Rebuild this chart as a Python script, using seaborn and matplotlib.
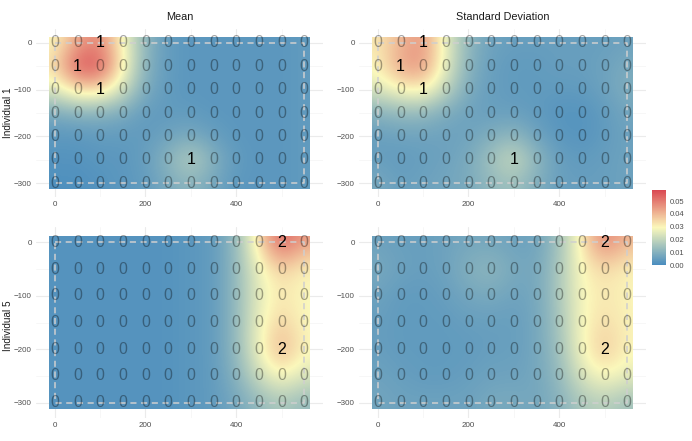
import numpy as np
import matplotlib
matplotlib.use("Agg")
import matplotlib.pyplot as plt
from matplotlib.patches import Rectangle
import seaborn as sns

# grid positions of the counts
x_vals = [0, 50, 100, 150, 200, 250, 300, 350, 400, 450, 500, 550]
y_vals = [0, -50, -100, -150, -200, -250, -300]

# counts per grid cell (rows = y_vals, cols = x_vals)
counts_ind1 = [
    [0, 0, 1, 0, 0, 0, 0, 0, 0, 0, 0, 0],
    [0, 1, 0, 0, 0, 0, 0, 0, 0, 0, 0, 0],
    [0, 0, 1, 0, 0, 0, 0, 0, 0, 0, 0, 0],
    [0, 0, 0, 0, 0, 0, 0, 0, 0, 0, 0, 0],
    [0, 0, 0, 0, 0, 0, 0, 0, 0, 0, 0, 0],
    [0, 0, 0, 0, 0, 0, 1, 0, 0, 0, 0, 0],
    [0, 0, 0, 0, 0, 0, 0, 0, 0, 0, 0, 0],
]
counts_ind5 = [
    [0, 0, 0, 0, 0, 0, 0, 0, 0, 0, 2, 0],
    [0, 0, 0, 0, 0, 0, 0, 0, 0, 0, 0, 0],
    [0, 0, 0, 0, 0, 0, 0, 0, 0, 0, 0, 0],
    [0, 0, 0, 0, 0, 0, 0, 0, 0, 0, 0, 0],
    [0, 0, 0, 0, 0, 0, 0, 0, 0, 0, 2, 0],
    [0, 0, 0, 0, 0, 0, 0, 0, 0, 0, 0, 0],
    [0, 0, 0, 0, 0, 0, 0, 0, 0, 0, 0, 0],
]

# estimated surface values at the grid points
ind1_mean = [
    [0.029, 0.043, 0.048, 0.029, 0.011, 0.004, 0.003, 0.003, 0.003, 0.003, 0.003, 0.004],
    [0.034, 0.057, 0.057, 0.031, 0.010, 0.004, 0.003, 0.003, 0.003, 0.003, 0.003, 0.004],
    [0.025, 0.035, 0.035, 0.023, 0.008, 0.004, 0.003, 0.003, 0.003, 0.003, 0.003, 0.004],
    [0.008, 0.010, 0.010, 0.008, 0.004, 0.004, 0.004, 0.003, 0.003, 0.003, 0.003, 0.004],
    [0.003, 0.003, 0.004, 0.004, 0.004, 0.006, 0.008, 0.005, 0.003, 0.003, 0.003, 0.004],
    [0.002, 0.002, 0.003, 0.003, 0.005, 0.011, 0.019, 0.010, 0.004, 0.003, 0.003, 0.004],
    [0.001, 0.001, 0.002, 0.003, 0.004, 0.008, 0.011, 0.007, 0.003, 0.003, 0.003, 0.004],
]
ind1_sd = [
    [0.032, 0.040, 0.046, 0.026, 0.011, 0.006, 0.005, 0.005, 0.005, 0.005, 0.005, 0.006],
    [0.030, 0.044, 0.046, 0.026, 0.010, 0.005, 0.004, 0.004, 0.005, 0.005, 0.006, 0.008],
    [0.024, 0.030, 0.032, 0.020, 0.008, 0.005, 0.004, 0.004, 0.004, 0.004, 0.006, 0.009],
    [0.010, 0.012, 0.012, 0.008, 0.006, 0.005, 0.005, 0.004, 0.002, 0.002, 0.004, 0.007],
    [0.005, 0.006, 0.006, 0.006, 0.006, 0.009, 0.012, 0.006, 0.003, 0.002, 0.004, 0.006],
    [0.005, 0.004, 0.005, 0.006, 0.008, 0.015, 0.022, 0.012, 0.005, 0.004, 0.005, 0.006],
    [0.008, 0.005, 0.006, 0.007, 0.008, 0.012, 0.014, 0.009, 0.005, 0.005, 0.005, 0.006],
]
ind5_mean = [
    [0.002, 0.002, 0.002, 0.002, 0.002, 0.002, 0.003, 0.004, 0.012, 0.034, 0.056, 0.044],
    [0.002, 0.002, 0.002, 0.002, 0.002, 0.002, 0.003, 0.004, 0.012, 0.027, 0.036, 0.030],
    [0.002, 0.002, 0.002, 0.002, 0.002, 0.002, 0.003, 0.004, 0.012, 0.026, 0.032, 0.029],
    [0.002, 0.002, 0.002, 0.002, 0.002, 0.002, 0.003, 0.004, 0.012, 0.027, 0.036, 0.029],
    [0.002, 0.002, 0.002, 0.002, 0.002, 0.002, 0.003, 0.004, 0.012, 0.028, 0.042, 0.030],
    [0.002, 0.002, 0.002, 0.002, 0.002, 0.002, 0.003, 0.004, 0.010, 0.022, 0.030, 0.024],
    [0.002, 0.002, 0.002, 0.002, 0.002, 0.002, 0.003, 0.004, 0.007, 0.012, 0.016, 0.012],
]
ind5_sd = [
    [0.006, 0.005, 0.005, 0.006, 0.007, 0.007, 0.006, 0.006, 0.014, 0.032, 0.050, 0.040],
    [0.008, 0.006, 0.005, 0.006, 0.010, 0.012, 0.008, 0.007, 0.016, 0.030, 0.034, 0.030],
    [0.006, 0.004, 0.004, 0.005, 0.007, 0.008, 0.006, 0.007, 0.016, 0.029, 0.032, 0.030],
    [0.005, 0.004, 0.004, 0.004, 0.005, 0.005, 0.005, 0.007, 0.015, 0.029, 0.034, 0.030],
    [0.005, 0.004, 0.004, 0.004, 0.004, 0.005, 0.005, 0.007, 0.014, 0.029, 0.038, 0.030],
    [0.006, 0.005, 0.004, 0.004, 0.005, 0.006, 0.006, 0.007, 0.012, 0.024, 0.030, 0.026],
    [0.007, 0.006, 0.006, 0.006, 0.006, 0.008, 0.008, 0.007, 0.010, 0.016, 0.018, 0.014],
]

col_titles = ["Mean", "Standard Deviation"]
row_titles = ["Individual 1", "Individual 5"]
cbar_ticks = [0.00, 0.01, 0.02, 0.03, 0.04, 0.05]

sns.set_theme(style="whitegrid")
plt.rcParams['font.family'] = ['Liberation Sans', 'DejaVu Sans']

cmap = sns.blend_palette(["#4a8dbf", "#fbf8bb", "#da4852"], as_cmap=True)
vmax = 0.0587

W, H = 692, 441
fig = plt.figure(figsize=(W / 100, H / 100), dpi=100)


def px_axes(x0, y0, x1, y1):
    return fig.add_axes([x0 / W, 1 - y1 / H, (x1 - x0) / W, (y1 - y0) / H])


panels = [
    (0, 0, ind1_mean, counts_ind1),
    (0, 1, ind1_sd, counts_ind1),
    (1, 0, ind5_mean, counts_ind5),
    (1, 1, ind5_sd, counts_ind5),
]
col_px = [(36, 323), (359, 646)]
row_px = [(29, 197), (227, 418)]

for r, c, dens, counts in panels:
    ax = px_axes(col_px[c][0], row_px[r][0], col_px[c][1], row_px[r][1])
    im = ax.imshow(np.array(dens), extent=[-25, 575, -325, 25], origin='upper',
                   cmap=cmap, vmin=0, vmax=vmax, interpolation='bicubic',
                   aspect='auto', zorder=1)
    im.set_clip_path(Rectangle((-12.5, -312.5), 575, 325, transform=ax.transData))

    # dashed study area
    ax.plot([0, 550, 550, 0, 0], [0, 0, -300, -300, 0], ls=(0, (4, 3)),
            color='#cfcfcf', lw=1.1, zorder=2)

    for i, yv in enumerate(y_vals):
        for j, xv in enumerate(x_vals):
            n = counts[i][j]
            ax.text(xv, yv, str(n), ha='center', va='center', fontsize=11.5,
                    color='black', alpha=1.0 if n > 0 else 0.35, zorder=3)

    ax.set_xlim(-41.25, 591.25)
    ax.set_ylim(-328.75, 28.75)
    ax.set_xticks([0, 200, 400])
    ax.set_xticks([100, 300, 500], minor=True)
    ax.set_yticks([0, -100, -200, -300])
    ax.set_yticks([-50, -150, -250], minor=True)
    ax.set_axisbelow(True)
    ax.set_facecolor('white')
    ax.grid(which='major', color='#ebebeb', lw=0.8)
    ax.grid(which='minor', color='#f4f4f4', lw=0.5)
    for s in ax.spines.values():
        s.set_visible(False)
    ax.tick_params(which='both', length=0, labelsize=5.8, colors='#4d4d4d', pad=3)

for c, t in enumerate(col_titles):
    fig.text((col_px[c][0] + col_px[c][1]) / 2 / W, 1 - 17 / H, t,
             ha='center', va='center', fontsize=7.8, color='#1a1a1a')
for r, t in enumerate(row_titles):
    yc = (row_px[r][0] + row_px[r][1]) / 2 + (3 if r == 1 else 0)
    fig.text(8 / W, 1 - yc / H, t, rotation=90,
             ha='center', va='center', fontsize=7.2, color='#1a1a1a')

cax = px_axes(652, 190, 666, 265)
cb = fig.colorbar(im, cax=cax, ticks=cbar_ticks, format='%.2f')
cb.outline.set_visible(False)
cax.tick_params(which='major', direction='in', length=3, width=0.7, color='white',
                left=True, right=True, labelsize=5.5, labelcolor='#4d4d4d', pad=3)
cax.tick_params(which='minor', length=0)

fig.savefig('out.png', dpi=100)
